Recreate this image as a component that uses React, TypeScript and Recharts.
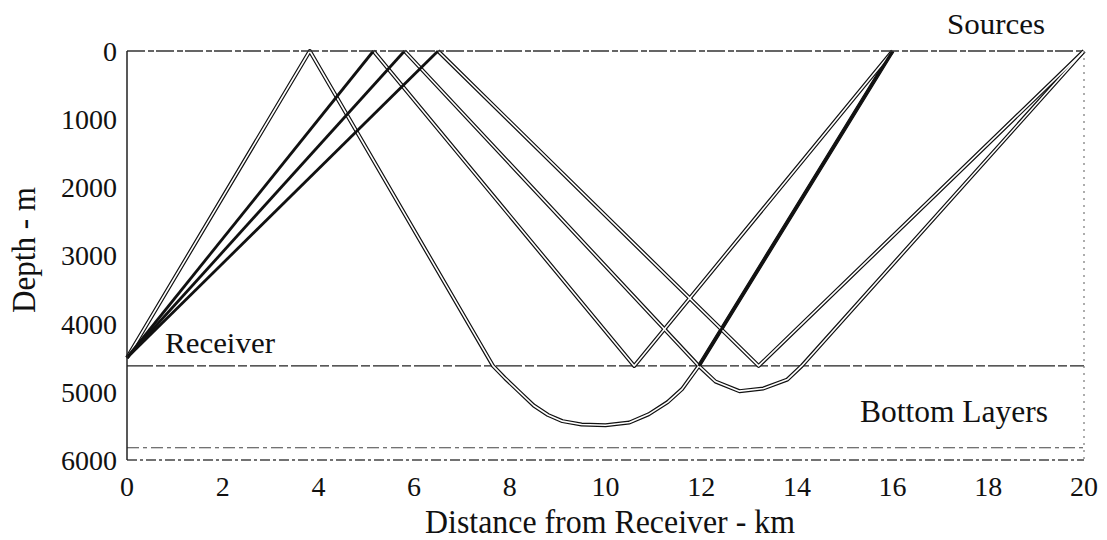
import React from 'react';
import { LineChart, Line, XAxis, YAxis, ReferenceLine } from 'recharts';

// ray diagram: receiver at 4500 m, sources at the surface (16 and 20 km)
const xTicks = [0, 2, 4, 6, 8, 10, 12, 14, 16, 18, 20];
const depthTicks = [0, 1000, 2000, 3000, 4000, 5000, 6000];
const layerDepths = [4620, 5820];

// [distance km, depth m]
const rayA = [
  [0, 4500], [3.82, 0], [7.65, 4620], [7.9, 4800], [8.2, 5000], [8.5, 5200], [8.8, 5340],
  [9.1, 5430], [9.5, 5480], [10.0, 5490], [10.5, 5450], [10.9, 5330], [11.3, 5150],
  [11.6, 4960], [11.95, 4620], [16, 0],
];
const rayB = [[0, 4500], [5.15, 0], [10.6, 4620], [16, 0]];
const rayC = [
  [0, 4500], [5.8, 0], [11.95, 4620], [12.3, 4850], [12.8, 4990], [13.3, 4950],
  [13.8, 4820], [14.1, 4620], [20, 0],
];
const rayD = [[0, 4500], [6.5, 0], [13.2, 4620], [20, 0]];

const toPts = (r: number[][]) => r.map(([x, d]) => ({ x, d }));

// double-stroked parts and plain thick parts
const hollow = [rayA, rayB.slice(1), rayC.slice(1), rayD.slice(1)];
const solid = [rayA.slice(-2), rayB.slice(0, 2), rayC.slice(0, 2), rayD.slice(0, 2)];

const FONT = '"Liberation Serif", "Times New Roman", serif';
const INK = '#111';

function ray(r: number[][], key: string, stroke: string, width: number) {
  return (
    <Line
      key={key}
      name={key}
      data={toPts(r)}
      dataKey="d"
      xAxisId="b"
      yAxisId="l"
      type="linear"
      stroke={stroke}
      strokeWidth={width}
      strokeLinejoin="round"
      dot={false}
      activeDot={false}
      isAnimationActive={false}
    />
  );
}

export default function App() {
  const tickStyle = { fontSize: 28, fill: INK, fontFamily: FONT };
  return (
    <div style={{ position: 'absolute', left: 0, top: 0, width: 1107, height: 540, background: '#fff' }}>
      <LineChart width={1107} height={540} margin={{ top: 51, right: 23, bottom: 20, left: 27 }}>
        <XAxis
          xAxisId="b"
          type="number"
          dataKey="x"
          domain={[0, 20]}
          ticks={xTicks}
          height={60}
          tickLine={false}
          tickSize={0}
          tickMargin={16}
          tick={tickStyle}
          axisLine={{ stroke: '#444', strokeWidth: 1.3, strokeDasharray: '10 3 3 3' }}
        />
        <XAxis
          xAxisId="t"
          type="number"
          orientation="top"
          mirror
          height={10}
          domain={[0, 20]}
          ticks={xTicks}
          tick={false}
          tickSize={4}
          tickLine={{ stroke: '#444', strokeWidth: 1.5 }}
          axisLine={{ stroke: '#333', strokeWidth: 1.4, strokeDasharray: '18 3 6 2' }}
        />
        <YAxis
          yAxisId="l"
          type="number"
          domain={[0, 6000]}
          reversed
          ticks={depthTicks}
          width={100}
          tickLine={false}
          tickSize={0}
          tickMargin={10}
          tick={tickStyle}
          axisLine={{ stroke: '#222', strokeWidth: 1.5 }}
        />
        <YAxis
          yAxisId="li"
          type="number"
          orientation="left"
          mirror
          width={10}
          domain={[0, 6000]}
          reversed
          ticks={depthTicks}
          tick={false}
          tickSize={10}
          tickLine={{ stroke: '#222', strokeWidth: 1.3 }}
          axisLine={false}
        />
        <YAxis
          yAxisId="r"
          type="number"
          orientation="right"
          mirror
          width={10}
          domain={[0, 6000]}
          reversed
          ticks={depthTicks}
          tick={false}
          tickSize={5}
          tickLine={{ stroke: '#555', strokeWidth: 1.5 }}
          axisLine={{ stroke: '#777', strokeWidth: 1.2, strokeDasharray: '2 5' }}
        />
        <ReferenceLine
          y={layerDepths[0]}
          xAxisId="b"
          yAxisId="l"
          stroke="#222"
          strokeWidth={1.3}
          strokeDasharray="26 3 9 3"
        />
        <ReferenceLine
          y={layerDepths[1]}
          xAxisId="b"
          yAxisId="l"
          stroke="#444"
          strokeWidth={1.2}
          strokeDasharray="12 4 4 4"
        />
        {hollow.map((r, i) => ray(r, 'ho' + i, INK, 4))}
        {hollow.map((r, i) => ray(r, 'hi' + i, '#fff', 1.6))}
        {solid.map((r, i) => ray(r, 'so' + i, INK, 2.8))}
      </LineChart>
      <svg
        width={1107}
        height={540}
        style={{ position: 'absolute', left: 0, top: 0, pointerEvents: 'none' }}
        fontFamily={FONT}
        fill={INK}
      >
        <text x={947} y={34} fontSize={30} textLength={98} lengthAdjust="spacingAndGlyphs">Sources</text>
        <text x={165} y={353} fontSize={29} textLength={110} lengthAdjust="spacingAndGlyphs">Receiver</text>
        <text x={860} y={422} fontSize={31} textLength={188} lengthAdjust="spacingAndGlyphs">Bottom Layers</text>
        <text x={425} y={533} fontSize={33} textLength={370} lengthAdjust="spacingAndGlyphs">
          Distance from Receiver - km
        </text>
        <text
          x={0}
          y={0}
          fontSize={33}
          textAnchor="middle"
          textLength={126}
          lengthAdjust="spacingAndGlyphs"
          transform="translate(35 250) rotate(-90)"
        >
          Depth - m
        </text>
      </svg>
    </div>
  );
}
